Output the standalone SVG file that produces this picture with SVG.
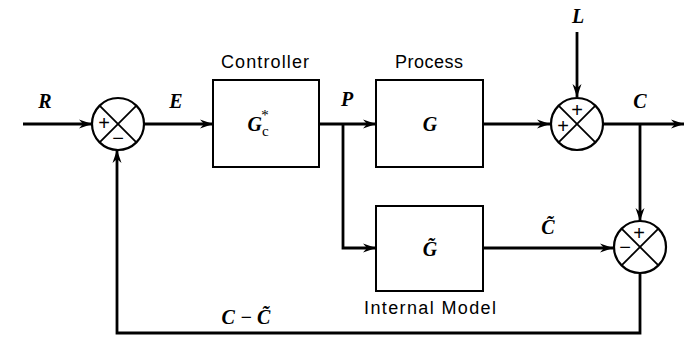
<svg xmlns="http://www.w3.org/2000/svg" width="686" height="337" viewBox="0 0 686 337">
<defs>
<marker id="arr" viewBox="0 0 14 10" refX="13" refY="5" markerWidth="14" markerHeight="10" markerUnits="userSpaceOnUse" orient="auto">
<path d="M0,0.5 L13,5 L0,9.5 L4,5 Z" fill="#000"/>
</marker>
</defs>
<style>
.ln{fill:none;stroke:#000;stroke-width:2.8}
.bx{fill:#fff;stroke:#000;stroke-width:2}
.sum{fill:#fff;stroke:#000;stroke-width:2.2}
.x{stroke:#000;stroke-width:1.8}
.var{font-family:"Liberation Serif",serif;font-style:italic;font-weight:bold;font-size:20px;text-anchor:middle}
.lbl{font-family:"Liberation Sans",Arial,sans-serif;font-size:18px;text-anchor:middle}
.sg{font-family:"Liberation Sans",Arial,sans-serif;font-size:20px;text-anchor:middle}
</style>
<rect width="686" height="337" fill="#fff"/>
<g id="connectors">
<path class="ln" d="M23,124 L92,124" marker-end="url(#arr)"/>
<path class="ln" d="M145,124 L213,124" marker-end="url(#arr)"/>
<path class="ln" d="M319,124 L376,124" marker-end="url(#arr)"/>
<path class="ln" d="M343,124 L343,248 L376,248" marker-end="url(#arr)"/>
<path class="ln" d="M483,124 L550,124" marker-end="url(#arr)"/>
<path class="ln" d="M577,32 L577,97" marker-end="url(#arr)"/>
<path class="ln" d="M603,124 L684,124" marker-end="url(#arr)"/>
<path class="ln" d="M640,124 L640,221" marker-end="url(#arr)"/>
<path class="ln" d="M483,248 L613,248" marker-end="url(#arr)"/>
<path class="ln" d="M640,274 L640,333 L117,333 L117,150" marker-end="url(#arr)"/>
</g>
<g id="sum1">
<circle class="sum" cx="118" cy="124" r="26"/>
<line class="x" x1="99.6" y1="105.6" x2="136.4" y2="142.4"/>
<line class="x" x1="136.4" y1="105.6" x2="99.6" y2="142.4"/>
<text class="sg" x="104" y="130">+</text>
<text class="sg" x="118" y="145">−</text>
</g>
<g id="controller">
<rect class="bx" x="213" y="80" width="106" height="87"/>
<text class="lbl" x="265" y="68" textLength="88">Controller</text>
<text class="var" x="258" y="131">G<tspan font-size="15" font-style="normal" font-weight="normal" dy="5">c</tspan><tspan font-size="15" font-weight="normal" dx="-8" dy="-16">*</tspan></text>
</g>
<g id="process">
<rect class="bx" x="376" y="80" width="107" height="87"/>
<text class="lbl" x="429" y="68" textLength="68">Process</text>
<text class="var" x="430" y="131">G</text>
</g>
<g id="sum2">
<circle class="sum" cx="577" cy="124" r="26"/>
<line class="x" x1="558.6" y1="105.6" x2="595.4" y2="142.4"/>
<line class="x" x1="595.4" y1="105.6" x2="558.6" y2="142.4"/>
<text class="sg" x="577" y="117">+</text>
<text class="sg" x="563" y="133">+</text>
</g>
<g id="internal-model">
<rect class="bx" x="376" y="206" width="107" height="85"/>
<text class="lbl" x="430" y="314" textLength="132">Internal Model</text>
<text class="var" x="430" y="256">G̃</text>
</g>
<g id="sum3">
<circle class="sum" cx="640" cy="247" r="26"/>
<line class="x" x1="621.6" y1="228.6" x2="658.4" y2="265.4"/>
<line class="x" x1="658.4" y1="228.6" x2="621.6" y2="265.4"/>
<text class="sg" x="639" y="240">+</text>
<text class="sg" x="625" y="254">−</text>
</g>
<g id="labels">
<text class="var" x="45" y="108">R</text>
<text class="var" x="176" y="108">E</text>
<text class="var" x="347" y="106">P</text>
<text class="var" x="578" y="23">L</text>
<text class="var" x="640" y="108">C</text>
<text class="var" x="548" y="234">C̃</text>
<text class="var" x="246" y="324">C − C̃</text>
</g>
</svg>
